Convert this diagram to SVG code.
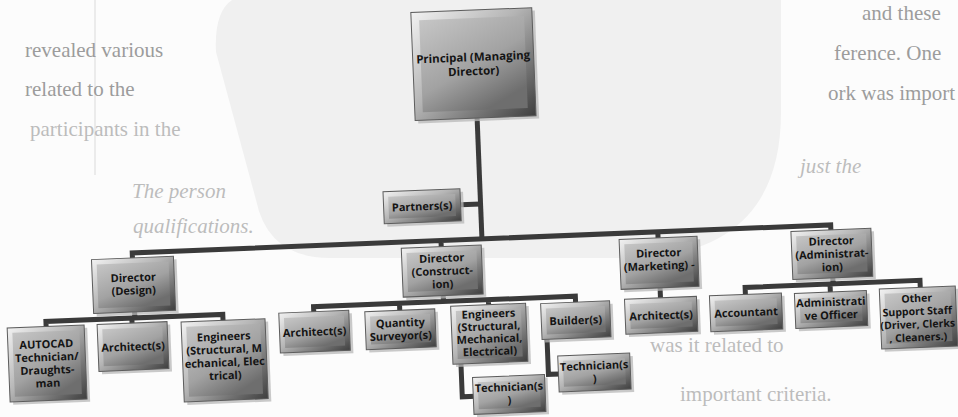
<svg xmlns="http://www.w3.org/2000/svg" width="958" height="417" viewBox="0 0 958 417">
<defs>
<linearGradient id="gFrame" x1="0" y1="0" x2="1" y2="1">
<stop offset="0" stop-color="#f2f2f2"/>
<stop offset="0.45" stop-color="#b4b4b4"/>
<stop offset="1" stop-color="#3e3e3e"/>
</linearGradient>
<linearGradient id="gFace" x1="0" y1="0" x2="0.6" y2="1">
<stop offset="0" stop-color="#c6c6c6"/>
<stop offset="0.6" stop-color="#a2a2a2"/>
<stop offset="1" stop-color="#6e6e6e"/>
</linearGradient>
<style>
.bg{fill:#fcfcfc}
.blob{fill:#f0f0f0}
.pg{font-family:"Liberation Serif","Times New Roman",serif;font-size:21px;fill:#9c9c9c}
.pgl{fill:#bcbcbc}
.it{font-style:italic}
.sh{fill:#b8b8b8;opacity:.75}
.fr{fill:url(#gFrame);stroke:#5c5c5c;stroke-width:1}
.fc{fill:url(#gFace)}
.t{font-family:"Open Sans","Liberation Sans",Arial,sans-serif;font-weight:700;font-size:11px;fill:#141414;text-anchor:middle}
.tp{font-size:11.5px}
.ts{font-size:10.5px}
.cn{fill:none;stroke:#3a3a3a;stroke-width:5;stroke-linejoin:miter;stroke-linecap:butt}
</style>
</defs>
<g id="page">
<rect class="bg" x="0" y="0" width="958" height="417"/>
<path class="blob" d="M232 0 H781 V112 Q781 250 640 258 H330 Q268 258 256 200 L216 52 Q214 12 232 0 Z"/>
<line x1="95" y1="0" x2="95" y2="175" stroke="#e6e6e6" stroke-width="1.5"/>
<text class="pg" x="25" y="57">revealed various</text>
<text class="pg" x="25" y="96">related to the</text>
<text class="pg pgl" x="30" y="136">participants in the</text>
<text class="pg pgl it" x="132" y="198">The person</text>
<text class="pg pgl it" x="133" y="233">qualifications.</text>
<text class="pg" x="862" y="20">and these</text>
<text class="pg" x="834" y="60">ference. One</text>
<text class="pg" x="828" y="100">ork was import</text>
<text class="pg pgl it" x="800" y="173">just the</text>
<text class="pg pgl" x="650" y="352">was it related to</text>
<text class="pg pgl" x="680" y="401">important criteria.</text>
</g>
<g id="chart" transform="rotate(-2.3 480 240)">
<g id="connectors">
<path class="cn" d="M482 118 V239"/>
<path class="cn" d="M462 204 H482"/>
<path class="cn" d="M132 246 V239 H831 V246 M441 239 V247 M658 239 V247"/>
<path class="cn" d="M132 298 V304 M43 311 V304 H220 V312 M129 304 V311"/>
<path class="cn" d="M441 294 V300 M311 307 V300 H573 V308 M397 300 V309 M486 300 V307"/>
<path class="cn" d="M456 363 V396 H469"/>
<path class="cn" d="M543 342 V377 H555"/>
<path class="cn" d="M658 295 V307"/>
<path class="cn" d="M831 292 V298 M743 307 V298 H918 V307 M828 298 V308"/>
</g>
<g id="n-principal">
<rect class="sh" x="423" y="13" width="121" height="108"/>
<rect class="fr" x="420" y="10" width="121" height="108"/>
<rect class="fc" x="428" y="18" width="105" height="92"/>
<text class="t tp" x="480.5" y="61">Principal (Managing</text>
<text class="t tp" x="480.5" y="75">Director)</text>
</g>
<g id="n-partners">
<rect class="sh" x="388" y="191" width="77" height="32"/>
<rect class="fr" x="385" y="188" width="77" height="32"/>
<rect class="fc" x="390" y="193" width="67" height="22"/>
<text class="t" x="423.5" y="208">Partners(s)</text>
</g>
<g id="n-dir-design">
<rect class="sh" x="94" y="247" width="82" height="54"/>
<rect class="fr" x="91" y="244" width="82" height="54"/>
<rect class="fc" x="96" y="249" width="72" height="44"/>
<text class="t" x="132" y="267.5">Director</text>
<text class="t" x="132" y="280.5">(Design)</text>
</g>
<g id="n-dir-construction">
<rect class="sh" x="404" y="248" width="80" height="49"/>
<rect class="fr" x="401" y="245" width="80" height="49"/>
<rect class="fc" x="406" y="250" width="70" height="39"/>
<text class="t" x="441" y="260.5">Director</text>
<text class="t" x="441" y="273.5">(Construct-</text>
<text class="t" x="441" y="286.5">ion)</text>
</g>
<g id="n-dir-marketing">
<rect class="sh" x="622" y="248" width="78" height="50"/>
<rect class="fr" x="619" y="245" width="78" height="50"/>
<rect class="fc" x="624" y="250" width="68" height="40"/>
<text class="t" x="658" y="264">Director</text>
<text class="t" x="658" y="277">(Marketing) -</text>
</g>
<g id="n-dir-admin">
<rect class="sh" x="794" y="247" width="80" height="48"/>
<rect class="fr" x="791" y="244" width="80" height="48"/>
<rect class="fc" x="796" y="249" width="70" height="38"/>
<text class="t" x="831" y="259">Director</text>
<text class="t" x="831" y="272">(Administrat-</text>
<text class="t" x="831" y="285">ion)</text>
</g>
<g id="n-autocad">
<rect class="sh" x="7" y="312" width="77" height="74"/>
<rect class="fr" x="4" y="309" width="77" height="74"/>
<rect class="fc" x="9" y="314" width="67" height="64"/>
<text class="t" x="42.5" y="330.5">AUTOCAD</text>
<text class="t" x="42.5" y="343.5">Technician/</text>
<text class="t" x="42.5" y="356.5">Draughts-</text>
<text class="t" x="42.5" y="369.5">man</text>
</g>
<g id="n-architect-design">
<rect class="sh" x="97" y="312" width="70" height="47"/>
<rect class="fr" x="94" y="309" width="70" height="47"/>
<rect class="fc" x="99" y="314" width="60" height="37"/>
<text class="t" x="129" y="336.5">Architect(s)</text>
</g>
<g id="n-engineers-design">
<rect class="sh" x="181" y="313" width="84" height="80"/>
<rect class="fr" x="178" y="310" width="84" height="80"/>
<rect class="fc" x="183" y="315" width="74" height="70"/>
<text class="t" x="220" y="330">Engineers</text>
<text class="t" x="220" y="343">(Structural, M</text>
<text class="t" x="220" y="356">echanical, Elec</text>
<text class="t" x="220" y="369">trical)</text>
</g>
<g id="n-architect-construction">
<rect class="sh" x="279" y="308" width="70" height="40"/>
<rect class="fr" x="276" y="305" width="70" height="40"/>
<rect class="fc" x="281" y="310" width="60" height="30"/>
<text class="t" x="311" y="329">Architect(s)</text>
</g>
<g id="n-quantity-surveyor">
<rect class="sh" x="365" y="310" width="70" height="38"/>
<rect class="fr" x="362" y="307" width="70" height="38"/>
<rect class="fc" x="367" y="312" width="60" height="28"/>
<text class="t" x="397" y="323.5">Quantity</text>
<text class="t" x="397" y="336.5">Surveyor(s)</text>
</g>
<g id="n-engineers-construction">
<rect class="sh" x="451" y="308" width="75" height="58"/>
<rect class="fr" x="448" y="305" width="75" height="58"/>
<rect class="fc" x="453" y="310" width="65" height="48"/>
<text class="t" x="485.5" y="318">Engineers</text>
<text class="t" x="485.5" y="330.5">(Structural,</text>
<text class="t" x="485.5" y="343">Mechanical,</text>
<text class="t" x="485.5" y="355.5">Electrical)</text>
</g>
<g id="n-builder">
<rect class="sh" x="541" y="309" width="69" height="36"/>
<rect class="fr" x="538" y="306" width="69" height="36"/>
<rect class="fc" x="543" y="311" width="59" height="26"/>
<text class="t" x="572.5" y="328">Builder(s)</text>
</g>
<g id="n-technician-eng">
<rect class="sh" x="470" y="380" width="72" height="37"/>
<rect class="fr" x="467" y="377" width="72" height="37"/>
<rect class="fc" x="472" y="382" width="62" height="27"/>
<text class="t" x="503" y="392">Technician(s</text>
<text class="t" x="503" y="405">)</text>
</g>
<g id="n-technician-builder">
<rect class="sh" x="556" y="362" width="72" height="36"/>
<rect class="fr" x="553" y="359" width="72" height="36"/>
<rect class="fc" x="558" y="364" width="62" height="26"/>
<text class="t" x="589" y="374">Technician(s</text>
<text class="t" x="589" y="387">)</text>
</g>
<g id="n-architect-marketing">
<rect class="sh" x="625" y="308" width="72" height="35"/>
<rect class="fr" x="622" y="305" width="72" height="35"/>
<rect class="fc" x="627" y="310" width="62" height="25"/>
<text class="t" x="658" y="326.5">Architect(s)</text>
</g>
<g id="n-accountant">
<rect class="sh" x="710" y="308" width="72" height="36"/>
<rect class="fr" x="707" y="305" width="72" height="36"/>
<rect class="fc" x="712" y="310" width="62" height="26"/>
<text class="t" x="743" y="327">Accountant</text>
</g>
<g id="n-admin-officer">
<rect class="sh" x="795" y="309" width="72" height="35"/>
<rect class="fr" x="792" y="306" width="72" height="35"/>
<rect class="fc" x="797" y="311" width="62" height="25"/>
<text class="t" x="828" y="320">Administrati</text>
<text class="t" x="828" y="333">ve Officer</text>
</g>
<g id="n-other-support">
<rect class="sh" x="880" y="308" width="76" height="60"/>
<rect class="fr" x="877" y="305" width="76" height="60"/>
<rect class="fc" x="882" y="310" width="66" height="50"/>
<text class="t ts" x="914" y="319.5">Other</text>
<text class="t ts" x="914" y="332.5">Support Staff</text>
<text class="t ts" x="914" y="345.5">(Driver, Clerks</text>
<text class="t ts" x="914" y="358.5">, Cleaners.)</text>
</g>
</g>
</svg>
